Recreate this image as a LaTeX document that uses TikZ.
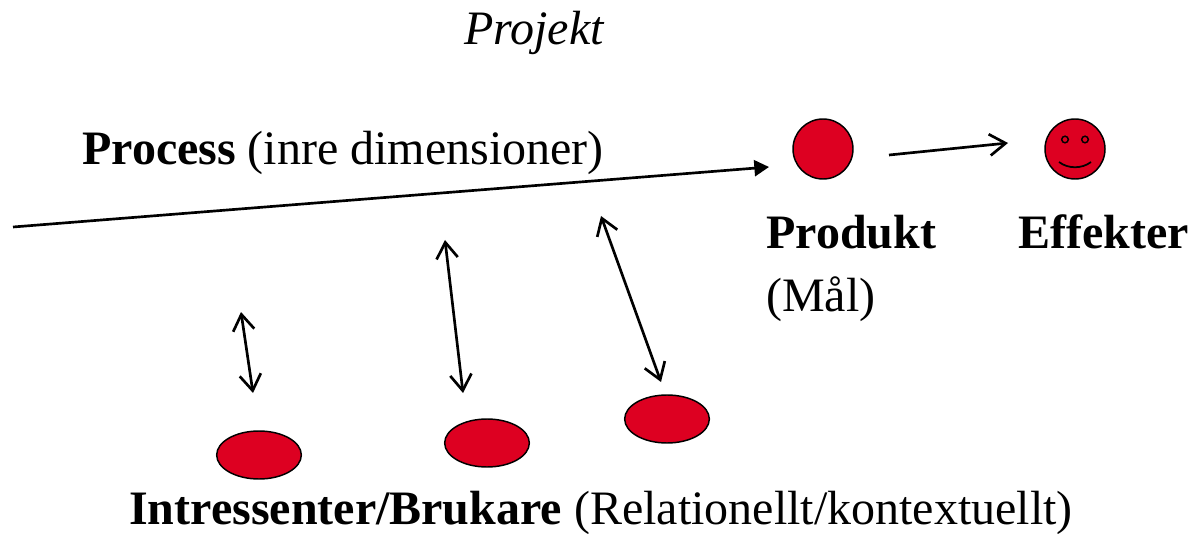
\documentclass[tikz,border=0pt]{standalone}
\usepackage{fontspec}
\setmainfont{Liberation Serif}
\usetikzlibrary{arrows.meta,shapes.geometric}
\definecolor{dotred}{RGB}{221,0,33}
\tikzset{
  x=0.75pt,y=-0.75pt,
  lab/.style={inner sep=0pt,anchor=base west,font=\fontsize{36}{43}\selectfont},
  dot/.style={circle,draw=black,line width=1.1pt,fill=dotred,minimum size=45pt,inner sep=0pt},
  blob/.style={ellipse,draw=black,line width=1.1pt,fill=dotred,minimum width=63.5pt,minimum height=36pt,inner sep=0pt},
  solidarrow/.style={line width=2pt,-{Triangle[length=11pt,width=12pt]}},
  openarrow/.style={line width=2pt,-{Straight Barb[length=12pt,width=16pt,line width=2pt]}},
  twoway/.style={line width=2pt,{Straight Barb[length=12pt,width=16pt,line width=2pt]}-{Straight Barb[length=12pt,width=16pt,line width=2pt]}},
}
\begin{document}
\begin{tikzpicture}
\useasboundingbox (0,0) rectangle (1194,534);
\node[lab] (title) at (464,45) {\itshape Projekt};
\node[lab] (proc) at (82,164.5) {\textbf{Process} (inre dimensioner)};
\node[lab] (prod) at (766,249) {\textbf{Produkt}};
\node[lab] (mal) at (766,311) {(Mål)};
\node[lab] (eff) at (1018,249) {\textbf{Effekter}};
\node[lab] (intr) at (129,524) {\textbf{Intressenter/Brukare} (Relationellt/kontextuellt)};
\node[dot] (product) at (823,149) {};
\node[dot] (face) at (1075,149) {};
\draw[line width=1.1pt] (1065,139.5) circle (3.3);
\draw[line width=1.1pt] (1085,139.5) circle (3.3);
\draw[line width=1.3pt] (1059,162) .. controls (1068,169) and (1082,169) .. (1091,162);
\node[blob] (e1) at (259,455) {};
\node[blob] (e2) at (487,443) {};
\node[blob] (e3) at (667,419) {};
\coordinate (pstart) at (13,227);
\coordinate (pend) at (769,167);
\coordinate (astart) at (889,155);
\coordinate (aend) at (1008,143);
\coordinate (a1) at (241,312);
\coordinate (b1) at (253,393);
\coordinate (a2) at (445,240);
\coordinate (b2) at (463,393);
\coordinate (a3) at (601,216);
\coordinate (b3) at (661,382);
\draw[solidarrow] (pstart) -- (pend);
\draw[openarrow] (astart) -- (aend);
\draw[twoway] (a1) -- (b1);
\draw[twoway] (a2) -- (b2);
\draw[twoway] (a3) -- (b3);
\end{tikzpicture}
\end{document}
